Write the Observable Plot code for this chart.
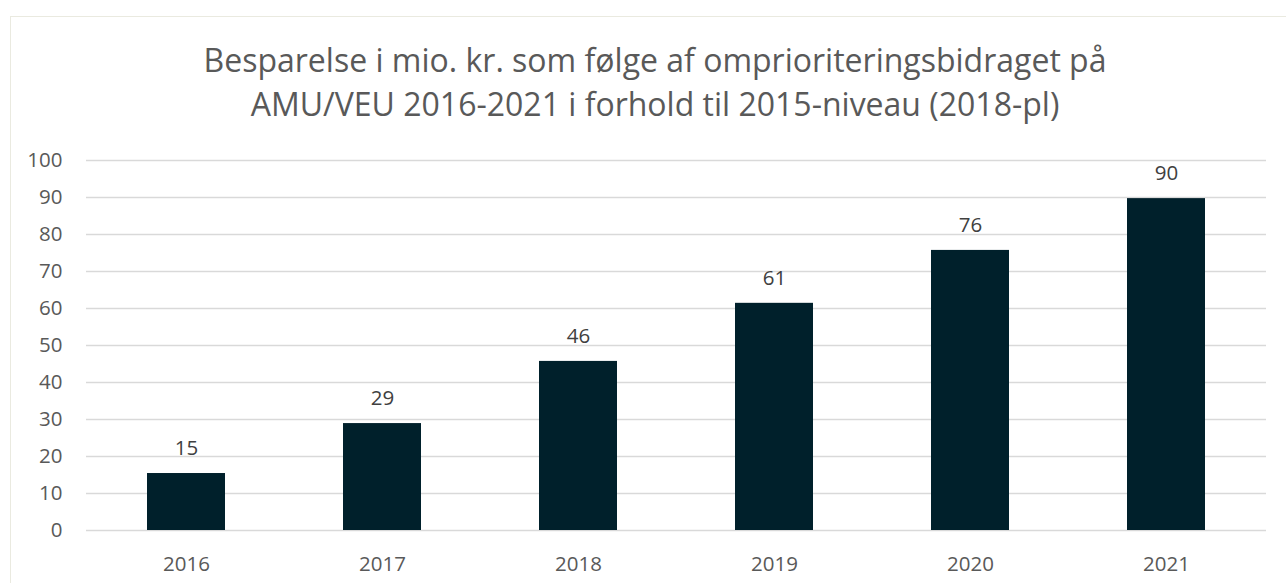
<!DOCTYPE html>
<html>
<head>
<meta charset="utf-8">
<script src="https://cdn.jsdelivr.net/npm/d3@7"></script>
<script src="https://cdn.jsdelivr.net/npm/@observablehq/plot@0.6"></script>
<style>
  html, body { margin: 0; padding: 0; background: #fff; }
  #wrap { position: relative; width: 1286px; height: 583px; overflow: hidden; font-family: "Open Sans", sans-serif; }
  #frame { position: absolute; left: 10px; top: 16px; width: 1300px; height: 600px; border: 1px solid #EAEAE0; box-sizing: border-box; }
  #title { position: absolute; left: 0; top: 38px; width: 1310px; text-align: center; font-size: 32px; line-height: 44px; color: #595959; }
  #chart { position: absolute; left: 0; top: 140px; }
</style>
</head>
<body>
<div id="wrap">
  <div id="frame"></div>
  <div id="title">Besparelse i mio. kr. som følge af omprioriteringsbidraget på<br>AMU/VEU 2016-2021 i forhold til 2015-niveau (2018-pl)</div>
  <div id="chart"></div>
</div>
<script>
const years = ["2016", "2017", "2018", "2019", "2020", "2021"];
const values = [15.4, 28.9, 45.7, 61.4, 75.7, 89.7];
const yTicks = [0, 10, 20, 30, 40, 50, 60, 70, 80, 90, 100];

const data = years.map((y, i) => ({year: y, value: values[i]}));

const plot = Plot.plot({
  width: 1286,
  height: 443,
  marginTop: 20,
  marginBottom: 53,
  marginLeft: 86,
  marginRight: 20,
  style: {fontFamily: "Open Sans, sans-serif", fontSize: "20px", color: "#595959", background: "transparent"},
  x: {domain: years, paddingInner: 0.6, paddingOuter: 0.3, label: null, tickSize: 0},
  y: {domain: [0, 100], label: null, tickSize: 0},
  marks: [
    Plot.ruleY(yTicks, {stroke: "#D9D9D9", strokeWidth: 1.3}),
    Plot.axisY({ticks: yTicks, tickSize: 0, tickPadding: 24, fill: "#595959", fontSize: 20.5}),
    Plot.axisX({tickSize: 0, tickPadding: 26, fill: "#595959", fontSize: 20.5}),
    Plot.barY(data, {x: "year", y: "value", fill: "#00202B"}),
    Plot.text(data, {x: "year", y: "value", text: d => String(Math.round(d.value)), dy: -25, fill: "#404040", fontSize: 20.5})
  ]
});
document.getElementById("chart").appendChild(plot);
</script>
</body>
</html>
